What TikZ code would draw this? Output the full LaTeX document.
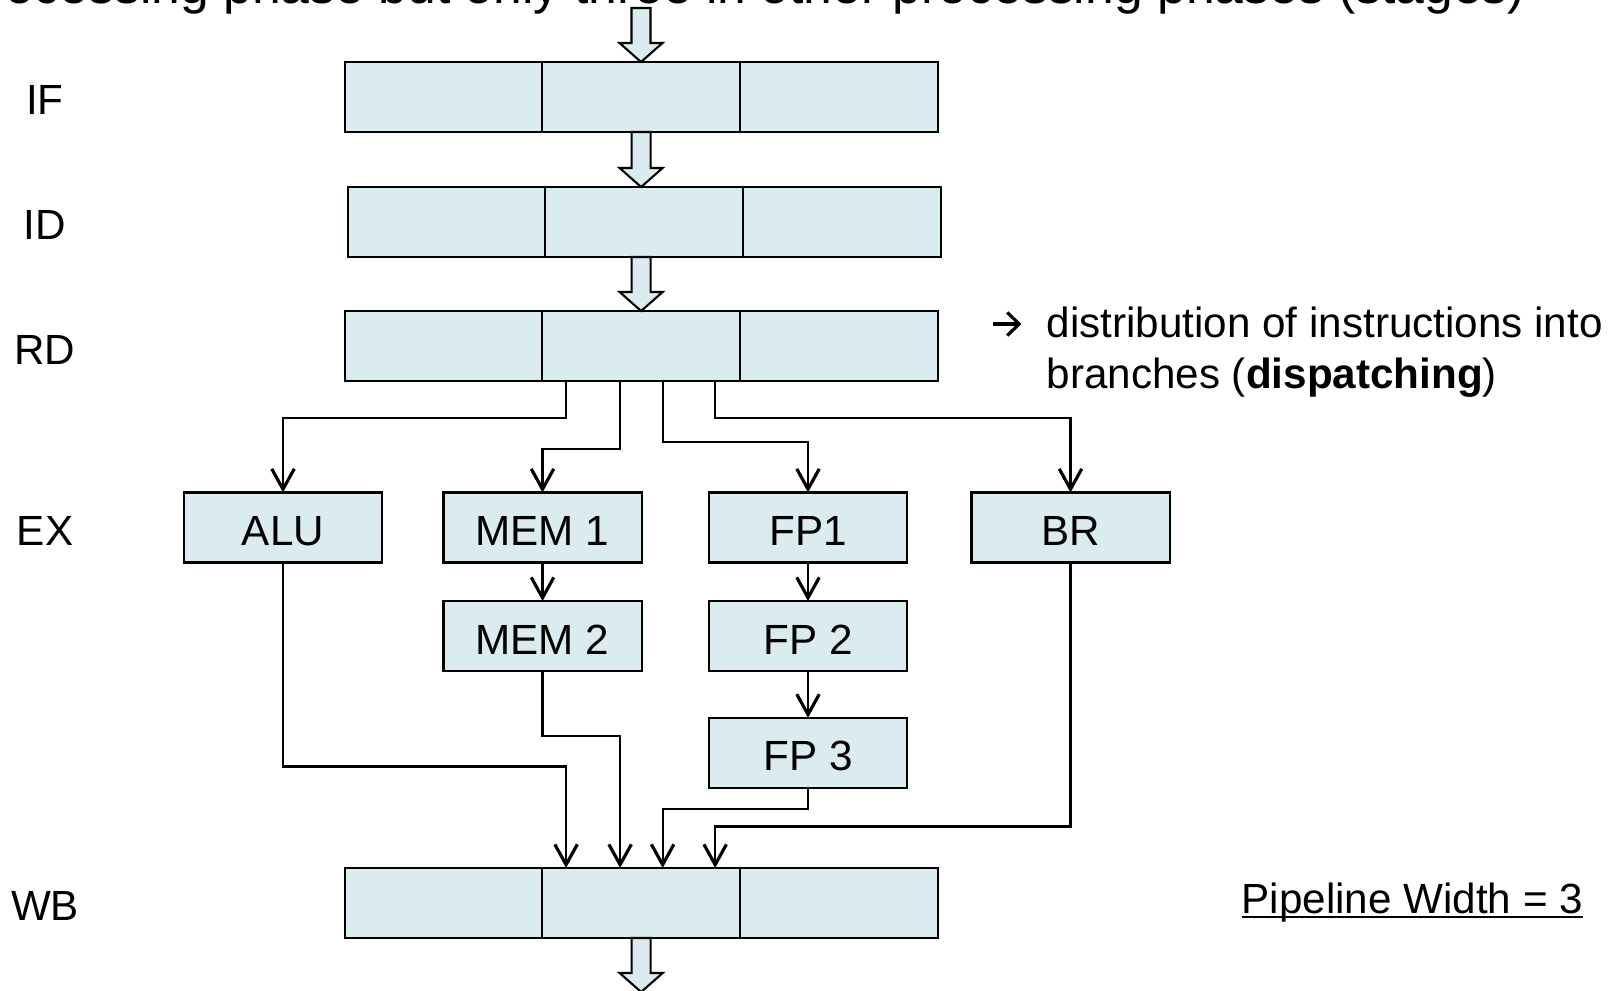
\documentclass[tikz,border=0pt]{standalone}
\usepackage{fontspec}
\setmainfont{Liberation Sans}
\usetikzlibrary{positioning,arrows.meta}

\definecolor{cellblue}{RGB}{218,236,239}

\newcommand{\ulined}[1]{\setbox0\hbox{#1}\rlap{\rule[-1.4pt]{\wd0}{0.55pt}}\box0}
\newcommand{\bulletarrow}{\tikz[baseline=0pt]\draw[line width=0.9pt,
  -{Straight Barb[length=3.4pt, width=6.6pt, line width=0.9pt]}] (0pt,3.7pt) -- (8pt,3.7pt);}

% hollow block arrow, #1 = start of shaft, #2 = level of the tip
\newcommand{\pipearrow}[2]{%
  \coordinate (pa top) at (#1);
  \coordinate (pa tip) at (pa top |- #2);
  \draw[pipe] ([xshift=-0.095cm]pa top) -- ([xshift=-0.095cm,yshift=0.19cm]pa tip)
    -- ([xshift=-0.215cm,yshift=0.19cm]pa tip) -- (pa tip)
    -- ([xshift=0.215cm,yshift=0.19cm]pa tip) -- ([xshift=0.095cm,yshift=0.19cm]pa tip)
    -- ([xshift=0.095cm]pa top) -- cycle;
}

\begin{document}
\begin{tikzpicture}[x=0.01cm, y=-0.01cm,
  cell/.style={draw, line width=0.6pt, fill=cellblue, minimum width=1.975cm,
    minimum height=0.70cm, inner sep=0pt, outer sep=0pt},
  unit/.style={cell, minimum width=1.98cm, font=\fontsize{12}{14}\selectfont,
    text height=0.36cm, text depth=0pt},
  stage/.style={font=\fontsize{12}{14}\selectfont, inner sep=0pt},
  flow/.style={line width=0.6pt, -{Straight Barb[length=5.8pt, width=6.4pt, line width=0.9pt]}},
  pipe/.style={line width=0.6pt, fill=cellblue, line join=miter}]

\useasboundingbox (0,0) rectangle (1619,990);
\clip (0,0) rectangle (1619,990);

% heading, cut off at the top
\node[anchor=base east, inner sep=0pt, font=\fontsize{14.7}{17}\selectfont] (heading) at (1526,3)
  {ocessing phase but only three in other processing phases (stages)};

% pipeline registers
\foreach \st/\x/\y in {if/443.5/97, id/446.5/222, rd/443.5/346, wb/443.5/903}{
  \node[cell] (\st a) at (\x,\y) {};
  \node[cell, right=0pt of \st a] (\st b) {};
  \node[cell, right=0pt of \st b] (\st c) {};
}

\foreach \lab/\y in {IF/100, ID/225, RD/350, EX/531, WB/906}
  \node[stage] (l\lab) at (45,\y) {\lab};

% execution units
\node[unit] (alu) at (283,527.5) {ALU};
\node[unit] (mem1) at (542.5,527.5) {MEM 1};
\node[unit] (fp1) at (808,527.5) {FP1};
\node[unit] (br) at (1070.5,527.5) {BR};
\node[unit, below=0.385cm of mem1] (mem2) {MEM 2};
\node[unit, below=0.385cm of fp1] (fp2) {FP 2};
\node[unit, below=0.467cm of fp2] (fp3) {FP 3};

% dispatching
\draw[flow] ([xshift=-0.75cm]rdb.south) -- ++(0,37) -| (alu.north);
\draw[flow] ([xshift=-0.21cm]rdb.south) -- ++(0,68) -| (mem1.north);
\draw[flow] ([xshift=0.215cm]rdb.south) -- ++(0,61) -| (fp1.north);
\draw[flow] ([xshift=0.74cm]rdb.south) -- ++(0,37) -| (br.north);

\draw[flow] (mem1) -- (mem2);
\draw[flow] (fp1) -- (fp2);
\draw[flow] (fp2) -- (fp3);

% write back
\draw[flow] (alu.south) -- ++(0,204) -| ([xshift=-0.75cm]wbb.north);
\draw[flow] (mem2.south) -- ++(0,65) -| ([xshift=-0.21cm]wbb.north);
\draw[flow] (fp3.south) -- ++(0,21) -| ([xshift=0.215cm]wbb.north);
\draw[flow] (br.south) -- ++(0,264) -| ([xshift=0.74cm]wbb.north);

% block arrows
\coordinate (feed) at (641,8);
\coordinate (idout) at (idb.south -| rdb.south);
\coordinate (drain) at (641,992);
\pipearrow{feed}{ifb.north}
\pipearrow{ifb.south}{idb.north}
\pipearrow{idout}{rdb.north}
\pipearrow{wbb.south}{drain}

% notes
\node[stage, anchor=base west] (disparrow) at (991,337) {\bulletarrow};
\node[stage, anchor=base west] (dispa) at (1046,337) {distribution of instructions into};
\node[stage, anchor=base west] (dispb) at (1046,388) {branches (\textbf{dispatching})};
\node[stage, anchor=base west] (pwidth) at (1241,913) {\ulined{Pipeline Width = 3}};
\end{tikzpicture}
\end{document}
